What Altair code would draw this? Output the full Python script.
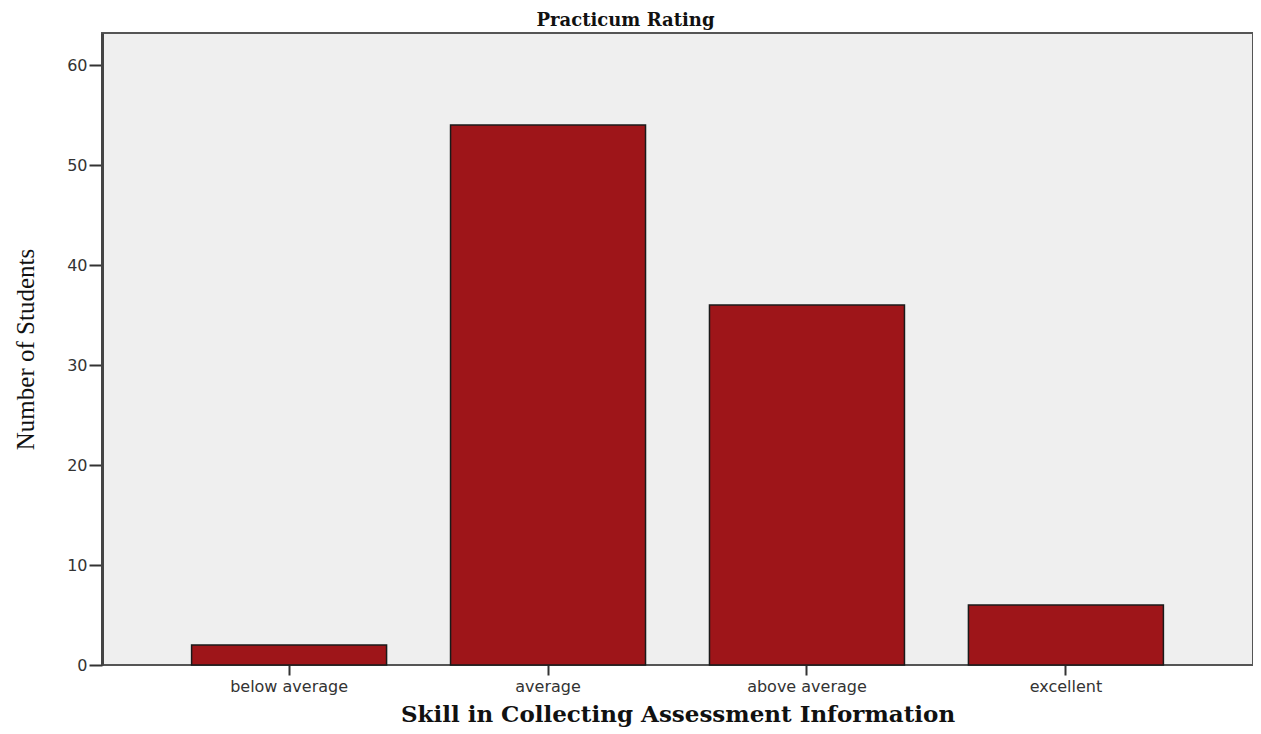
import altair as alt
import pandas as pd

categories = ["below average", "average", "above average", "excellent"]
counts = [2, 54, 36, 6]

df = pd.DataFrame({"rating": categories, "students": counts})

chart = alt.Chart(df).mark_bar(
    fill="#9e1519", stroke="#1a1a1a", strokeWidth=1.5
).encode(
    x=alt.X("rating:N", sort=categories,
            scale=alt.Scale(paddingInner=0.247, paddingOuter=0.346),
            axis=alt.Axis(title="Skill in Collecting Assessment Information",
                          labelAngle=0, labelFont="DejaVu Sans", labelFontSize=16,
                          labelColor="#333", tickSize=10, tickColor="#333",
                          tickWidth=2, domain=False, labelPadding=3,
                          titleFont="DejaVu Serif", titleFontSize=23,
                          titleFontWeight="bold", titleColor="#111", titlePadding=9)),
    y=alt.Y("students:Q", scale=alt.Scale(domain=[0, 63.2], nice=False),
            axis=alt.Axis(title="Number of Students", values=[0, 10, 20, 30, 40, 50, 60],
                          labelFont="DejaVu Sans", labelFontSize=16, labelColor="#333",
                          tickSize=13, tickColor="#333", tickWidth=2, grid=False,
                          domainColor="#444", domainWidth=3, labelPadding=2,
                          titleFont="Liberation Serif", titleFontSize=25,
                          titleFontWeight="normal", titleColor="#111", titlePadding=28)),
).properties(
    width=1151, height=632,
    title=alt.TitleParams("Practicum Rating", font="DejaVu Serif", fontSize=18,
                          fontWeight="bold", color="#111", anchor="middle", dx=-52, offset=3),
    padding={"left": 94, "top": 25, "right": 0, "bottom": 62},
    autosize=alt.AutoSizeParams(type="none"),
).configure_view(
    fill="#efefef", stroke="#555", strokeWidth=2
)

chart.save("out.html", embed_options={"renderer": "svg", "actions": False})
